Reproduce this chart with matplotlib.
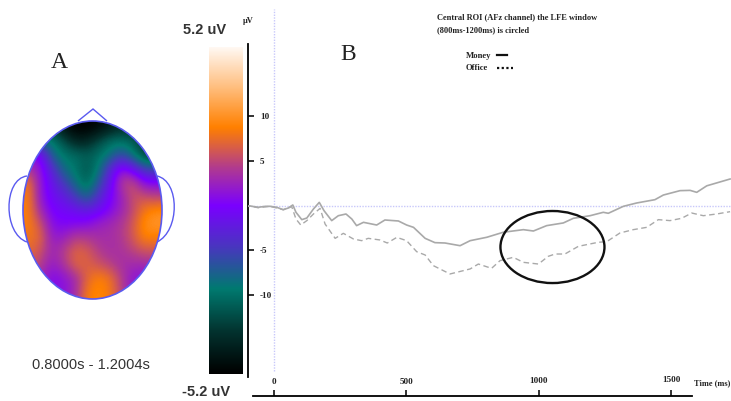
import matplotlib

matplotlib.use("Agg")

import matplotlib.pyplot as plt
import numpy as np
from matplotlib.colors import LinearSegmentedColormap
from matplotlib.patches import Ellipse, PathPatch
from matplotlib.path import Path

W, H = 731, 402

money_ms = [-110, -91, -60, -34, -15, 10, 35, 54, 71, 83, 105, 124, 149, 171, 189, 218, 243, 272, 294, 312,
            338, 388, 419, 470, 501, 527, 571, 608, 646, 703, 741, 804, 866, 942, 980, 1030, 1093, 1131, 1194,
            1244, 1263, 1320, 1370, 1439, 1471, 1534, 1572, 1597, 1635, 1723]
money_uv = [-0.1, -0.05, -0.2, -0.1, -0.09, -0.2, -0.47, -0.28, 0.06, -0.76, -1.58, -1.4, -0.39, 0.35, -0.58,
            -1.69, -1.14, -0.95, -1.51, -2.25, -1.88, -2.18, -1.62, -1.73, -2.18, -2.44, -3.67, -4.15, -4.19,
            -4.49, -3.93, -3.55, -2.99, -2.7, -2.85, -2.25, -1.95, -1.43, -1.14, -0.76, -0.87, -0.09, 0.28,
            0.65, 1.17, 1.66, 1.69, 1.47, 2.2, 2.96]

office_ms = [-110, -91, -60, -34, -15, 35, 67, 83, 101, 124, 149, 174, 193, 231, 262, 300, 331, 356, 400, 428,
             464, 501, 539, 571, 602, 665, 741, 772, 822, 854, 904, 942, 999, 1036, 1062, 1099, 1150, 1225,
             1257, 1307, 1357, 1408, 1452, 1496, 1540, 1578, 1622, 1672, 1723]
office_uv = [-0.2, -0.05, -0.25, -0.15, -0.09, -0.47, -0.13, -1.51, -2.18, -1.69, -0.95, -0.32, -2.07, -3.67,
             -3.11, -3.74, -3.93, -3.67, -3.85, -4.19, -3.56, -3.93, -5.16, -5.53, -6.72, -7.65, -7.09, -6.54,
             -7.02, -6.16, -5.79, -6.35, -6.54, -5.68, -5.42, -5.42, -4.56, -4.11, -4.04, -3.07, -2.7, -2.44,
             -1.58, -1.69, -1.43, -0.84, -1.14, -0.95, -0.69]

y_ticks = [10, 5, -5, -10]
x_ticks = [0, 500, 1000, 1500]
x_tick_labels = ["0", "500", "1000", "1500"]

# scalp map values in uV, front of the head first
scalp_uv = np.array([
    [-3.0, -3.0, -3.5, -4.8, -5.2, -5.2, -5.0, -4.5, -4.0, -4.0, -4.0, -4.0],
    [-2.2, -2.2, -2.5, -3.2, -4.2, -4.2, -3.4, -2.7, -2.6, -3.0, -3.8, -4.0],
    [0.5, 0.2, -2.0, -2.6, -2.7, -3.0, -2.7, -2.3, -1.5, -2.4, -3.5, -3.8],
    [1.2, 0.6, -0.8, -2.2, -2.6, -3.2, -2.5, -0.8, 0.6, -0.2, -1.4, -1.5],
    [2.4, 0.6, -0.3, -1.2, -2.2, -3.0, -1.8, -0.3, 1.4, 1.7, 0.4, 0.3],
    [2.6, 0.6, -0.1, -0.5, -1.2, -2.2, -1.0, 0.1, 0.8, 1.8, 1.7, 1.5],
    [2.6, 1.0, 0.1, 0.0, -0.2, -0.5, -0.2, 0.3, 0.9, 1.6, 2.5, 2.8],
    [2.6, 1.8, 0.4, 0.2, 0.3, 0.4, 0.8, 1.0, 1.3, 1.9, 2.9, 3.1],
    [2.4, 2.2, 0.7, 0.8, 1.4, 1.3, 1.1, 1.1, 1.3, 1.9, 2.7, 2.6],
    [2.2, 1.8, 0.9, 1.4, 2.1, 2.0, 1.4, 1.1, 1.2, 1.5, 1.8, 1.8],
    [2.0, 1.4, 0.7, 1.2, 2.1, 2.1, 1.8, 1.5, 1.1, 1.0, 1.0, 1.0],
    [1.0, 1.0, 0.3, 0.5, 1.0, 2.1, 2.7, 2.4, 1.4, 0.6, 0.5, 0.5],
    [0.5, 0.5, 0.5, 0.5, 1.0, 2.5, 2.8, 2.5, 1.5, 0.5, 0.5, 0.5],
])

COLOR_STOPS = [
    (0.0, "#000000"),
    (0.13, "#03332f"),
    (0.26, "#007a70"),
    (0.39, "#4a35c0"),
    (0.515, "#7a00ff"),
    (0.63, "#b03a90"),
    (0.755, "#ff8000"),
    (0.88, "#ffbf80"),
    (1.0, "#fff8f2"),
]
BLUE = "#5a5af0"
GUIDE = "#c8c8fa"
GREY = "#a9a9a9"

cmap = LinearSegmentedColormap.from_list("scalp", COLOR_STOPS)

plt.rcParams["font.family"] = ["Liberation Sans", "DejaVu Sans"]

fig = plt.figure(figsize=(W / 100, H / 100), dpi=100)

# pixel layer for the head map, colour bar and loose labels
px = fig.add_axes([0, 0, 1, 1])
px.set_xlim(0, W)
px.set_ylim(H, 0)
px.axis("off")

image = px.imshow(scalp_uv, cmap=cmap, vmin=-5.2, vmax=5.2, interpolation="bicubic",
                  extent=(23, 162, 300, 122), aspect="auto", zorder=1)
head = Ellipse((92.5, 211), 139, 178, transform=px.transData, fc="none", ec=BLUE, lw=1.2, zorder=2)
px.add_patch(head)
image.set_clip_path(head)

nose = Path([(78, 122), (93, 110), (107, 122)])
left_ear = Path([(27, 177), (3, 180), (3, 235), (27, 243)], [Path.MOVETO, Path.CURVE4, Path.CURVE4, Path.CURVE4])
right_ear = Path([(157, 177), (180, 182), (180, 232), (157, 243)], [Path.MOVETO, Path.CURVE4, Path.CURVE4, Path.CURVE4])
for shape in (nose, left_ear, right_ear):
    px.add_patch(PathPatch(shape, fc="none", ec=BLUE, lw=1.0, zorder=2))

bar_values = np.linspace(5.2, -5.2, 256).reshape(-1, 1)
px.imshow(bar_values, cmap=cmap, vmin=-5.2, vmax=5.2, extent=(209, 243, 375, 48), aspect="auto", zorder=1)
px.set_xlim(0, W)
px.set_ylim(H, 0)

px.text(205, 30, "5.2 uV", fontsize=10.5, fontweight="bold", color="#333333", ha="center", va="center")
px.text(206, 392, "-5.2 uV", fontsize=10.5, fontweight="bold", color="#333333", ha="center", va="center")
px.text(59, 63, "A", fontsize=17, family="Liberation Serif", color="#222222", ha="center", va="center")
px.text(348, 55, "B", fontsize=17, family="Liberation Serif", color="#222222", ha="center", va="center")
px.text(91, 365, "0.8000s - 1.2004s", fontsize=10.5, color="#333333", ha="center", va="center")

serif = {"family": "Liberation Serif", "fontweight": "bold", "color": "#222222", "va": "center"}
px.text(437, 17, "Central ROI (AFz channel) the LFE window", fontsize=6.0, **serif)
px.text(437, 30, "(800ms-1200ms) is circled", fontsize=6.0, **serif)
px.text(466, 56, "Money", fontsize=6.2, **serif)
px.text(466, 68, "Office", fontsize=6.2, **serif)
px.text(694, 383, "Time (ms)", fontsize=6.0, **serif)
px.text(248, 21, "\u03bcV", fontsize=6.0, family="Liberation Serif", fontweight="bold", color="#222222",
        ha="center", va="center")

# ERP axes: 0 ms at x=274 px, 0 uV at y=206.5 px
ms_per_px = 1 / 0.2647
uv_per_px = 1 / 8.95
ax_left, ax_right, ax_top, ax_bottom = 248, W, 8, 397
ax = fig.add_axes([ax_left / W, 1 - ax_bottom / H, (ax_right - ax_left) / W, (ax_bottom - ax_top) / H])
ax.set_xlim((ax_left - 274) * ms_per_px, (ax_right - 274) * ms_per_px)
ax.set_ylim((206.5 - ax_bottom) * uv_per_px, (206.5 - ax_top) * uv_per_px)
ax.patch.set_alpha(0)

for side in ("top", "right"):
    ax.spines[side].set_visible(False)
ax.spines["left"].set_linewidth(1.3)
ax.spines["left"].set_bounds((206.5 - 378) * uv_per_px, (206.5 - 45) * uv_per_px)
ax.spines["bottom"].set_linewidth(1.3)
ax.spines["bottom"].set_position(("data", (206.5 - 397) * uv_per_px))
ax.spines["bottom"].set_bounds((253 - 274) * ms_per_px, (692 - 274) * ms_per_px)

ax.set_xticks(x_ticks)
ax.set_xticklabels([])
ax.set_yticks(y_ticks)
ax.set_yticklabels([])
ax.tick_params(axis="both", direction="in", length=4, width=1.2, color="#111111")

label_style = {"family": "Liberation Serif", "fontweight": "bold", "color": "#222222", "fontsize": 6.6}
for value in y_ticks:
    ax.text((260 - 274) * ms_per_px, value, str(value), va="center", ha="left", **label_style)
for value, label, y_px in zip(x_ticks, x_tick_labels, [382, 382, 381, 380]):
    ax.text(value, (206.5 - y_px) * uv_per_px, label, va="center", ha="center", **label_style)

ax.axhline(0, color=GUIDE, lw=1.0, ls=(0, (1, 1)), zorder=1)
ax.plot([0, 0], [(206.5 - 372) * uv_per_px, (206.5 - 10) * uv_per_px], color=GUIDE, lw=1.0, ls=(0, (1, 1)), zorder=1)

ax.plot(money_ms, money_uv, color=GREY, lw=1.2, zorder=3)
ax.plot(office_ms, office_uv, color=GREY, lw=1.0, ls=(0, (4, 2.5)), zorder=3)

ax.add_patch(Ellipse((1052, -4.64), 393, 8.05, fc="none", ec="#111111", lw=1.7, zorder=4))

# legend keys
px.plot([497, 507], [56, 56], color="#111111", lw=1.6, zorder=5)
px.plot([497, 513], [69, 69], color="#111111", lw=1.6, ls=(0, (1, 1.1)), zorder=5)

fig.savefig("out.png", dpi=100)
plt.close(fig)
